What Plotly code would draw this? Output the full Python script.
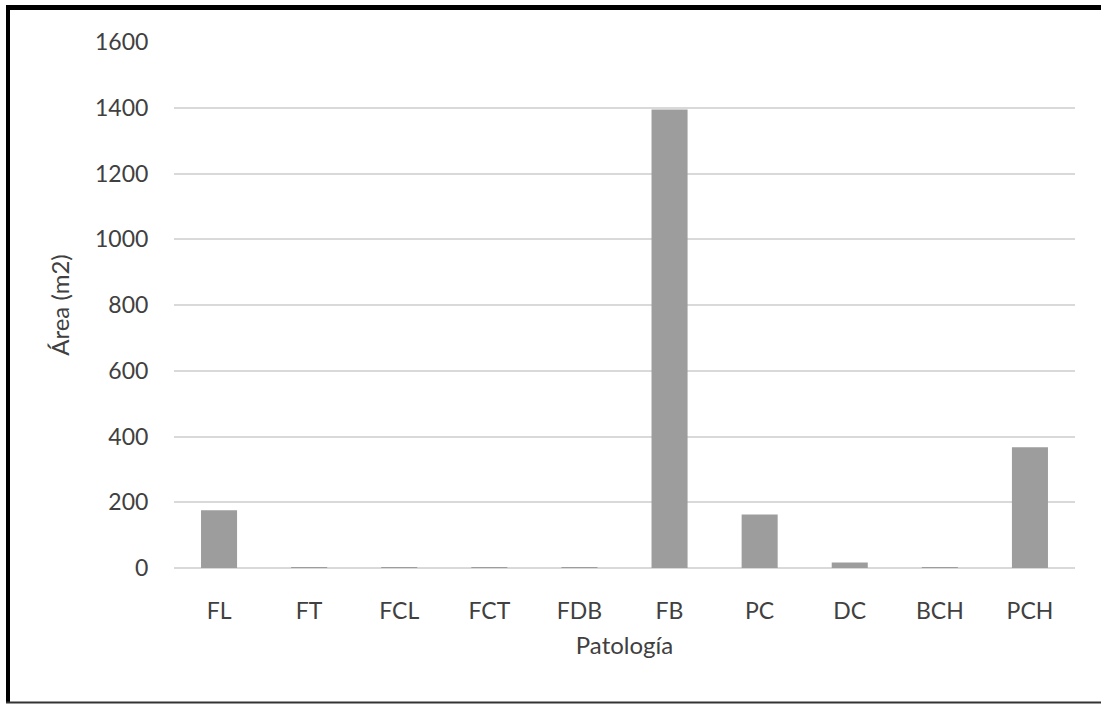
import plotly.graph_objects as go

categories = ["FL", "FT", "FCL", "FCT", "FDB", "FB", "PC", "DC", "BCH", "PCH"]
area_m2 = [176, 2, 2, 2, 2, 1395, 163, 17, 2, 367]
y_ticks = [0, 200, 400, 600, 800, 1000, 1200, 1400, 1600]

FONT = "Lato"
TXT = "#404040"

fig = go.Figure()
fig.add_trace(go.Bar(
    x=categories, y=area_m2,
    marker=dict(color="#9d9d9d", line=dict(width=0)),
    width=0.4,
))

L, R, T, B = 174, 26, 42, 136
W, H = 1101, 704
pw, ph = W - L - R, H - T - B

def px(x):
    return (x - L) / pw

def py(y):
    return (H - B - y) / ph

fig.update_layout(
    width=W, height=H,
    margin=dict(l=L, r=R, t=T, b=B),
    paper_bgcolor="white", plot_bgcolor="white",
    showlegend=False,
    font=dict(family=FONT, size=24, color=TXT),
    xaxis=dict(
        title=dict(text="Patología", font=dict(size=24, color=TXT), standoff=14),
        showgrid=False, showline=False, zeroline=False,
        ticks="outside", ticklen=22, tickcolor="rgba(0,0,0,0)",
        tickfont=dict(size=23, color=TXT),
    ),
    yaxis=dict(
        title=dict(text="Área (m2)", font=dict(size=24, color=TXT), standoff=18),
        range=[0, 1600], tickvals=y_ticks,
        showgrid=True, gridcolor="#d9d9d9", gridwidth=2,
        zeroline=True, zerolinecolor="#d9d9d9", zerolinewidth=2,
        showline=False,
        ticks="outside", ticklen=20, tickcolor="rgba(0,0,0,0)",
        tickfont=dict(size=23, color=TXT),
    ),
    shapes=[
        dict(type="line", xref="paper", yref="paper",
             x0=px(6), x1=px(1110), y0=py(7.5), y1=py(7.5),
             line=dict(color="black", width=5)),
        dict(type="line", xref="paper", yref="paper",
             x0=px(8), x1=px(8), y0=py(5), y1=py(703),
             line=dict(color="black", width=4)),
        dict(type="line", xref="paper", yref="paper",
             x0=px(6), x1=px(1110), y0=py(702.5), y1=py(702.5),
             line=dict(color="#333333", width=2)),
    ],
)

fig.write_html("out.html", config={"displayModeBar": False},
               post_script="document.body.style.margin='0';")
